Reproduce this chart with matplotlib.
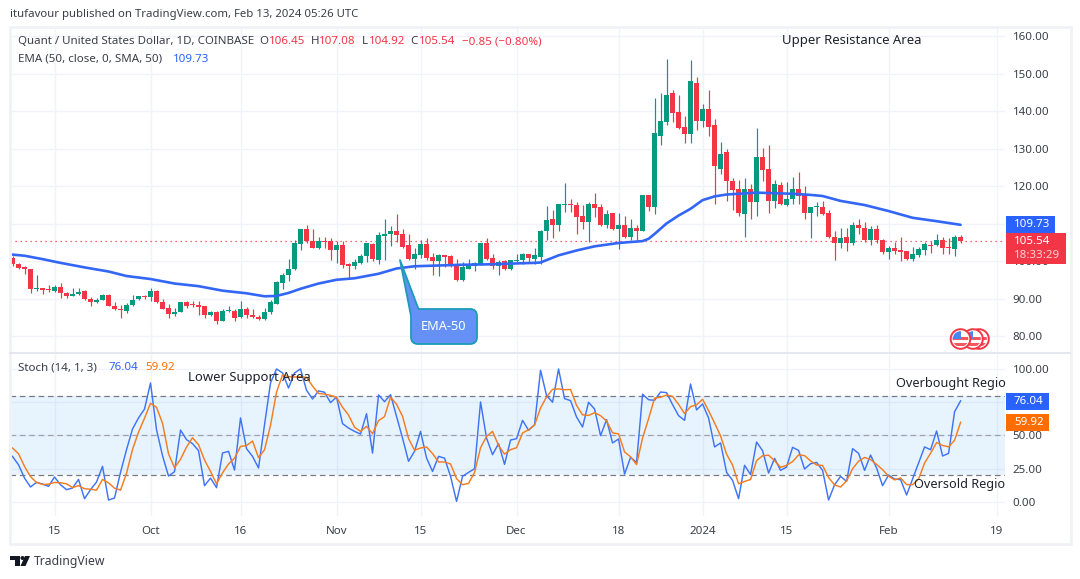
import numpy as np
import matplotlib
matplotlib.use('Agg')
import matplotlib.pyplot as plt
from matplotlib.patches import Rectangle, Circle, Polygon, PathPatch
from matplotlib.path import Path

plt.rcParams['font.family'] = ['Noto Sans', 'DejaVu Sans']

# daily candles, 8 Sep 2023 .. 13 Feb 2024
opens = [100.9,99.4,98.6,98.0,92.6,92.6,92.6,92.0,93.3,91.6,90.9,91.2,92.0,90.1,89.1,89.8,91.1,88.2,87.3,86.9,
         88.3,89.9,90.7,90.4,92.2,89.3,87.7,86.1,86.4,89.3,88.7,88.5,88.0,85.6,86.4,84.1,86.7,86.9,85.1,87.4,
         85.8,85.3,84.6,86.4,88.7,94.3,96.5,97.9,104.7,108.7,105.5,103.5,105.5,105.3,103.1,104.3,99.4,98.7,99.6,101.4,
         104.5,100.4,106.7,107.2,108.0,107.2,104.3,100.5,101.6,104.5,101.1,100.0,101.6,101.3,99.2,95.0,98.1,98.8,99.2,104.8,
         100.8,98.8,100.0,97.9,100.1,100.3,101.9,100.5,101.1,108.0,111.2,109.6,115.0,115.4,114.9,112.0,110.4,115.2,114.4,109.6,
         112.8,108.5,109.6,106.6,109.0,108.2,117.6,114.4,133.5,137.0,144.7,139.9,135.7,133.8,147.6,137.5,140.7,136.2,124.7,129.0,
         121.3,119.2,112.5,119.4,115.7,127.7,124.7,116.2,120.2,114.9,116.5,119.2,117.6,113.0,114.5,114.6,113.0,106.6,104.8,106.4,
         104.8,109.6,108.8,105.6,108.5,105.8,102.4,103.5,102.9,102.7,100.5,101.6,102.9,104.3,104.3,105.8,103.7,103.2,106.45]
highs = [101.3,99.6,98.7,98.1,96.5,92.8,93.8,93.8,94.3,91.8,92.9,92.9,92.5,90.4,90.2,91.4,91.2,89.1,88.5,88.9,
         91.1,90.9,91.0,92.9,92.3,90.0,88.7,87.6,89.3,89.5,89.4,89.5,88.2,86.7,86.7,87.2,88.2,87.3,89.4,87.8,
         87.4,85.6,87.6,89.8,94.7,96.9,100.6,105.8,108.7,109.7,108.7,106.5,106.6,106.2,105.3,105.3,99.6,100.6,101.9,105.0,
         105.0,107.8,111.2,109.4,112.5,108.5,107.2,103.6,105.6,106.1,102.3,101.9,101.7,101.6,100.5,99.9,100.5,99.9,104.8,106.1,
         101.9,100.4,100.3,100.4,101.9,102.3,101.9,103.6,108.3,114.7,113.6,115.2,120.9,116.7,115.8,115.0,115.9,118.1,115.2,113.8,
         112.9,112.9,112.0,111.2,109.6,117.7,117.7,143.6,144.7,153.8,145.5,144.2,138.6,153.5,149.2,141.8,145.5,137.8,131.7,129.8,
         122.1,121.6,122.1,120.5,135.4,130.3,130.9,121.6,121.0,121.0,122.4,123.9,120.0,114.6,115.7,116.2,113.6,108.2,109.0,109.0,
         110.4,111.2,110.6,109.3,109.6,105.9,104.0,105.1,106.4,102.7,103.7,103.7,105.1,105.3,107.4,106.4,106.1,106.9,107.08]
lows = [98.7,98.0,96.7,91.5,92.0,91.2,91.8,91.8,90.2,90.3,90.7,91.1,89.8,88.2,88.9,89.7,88.0,87.1,84.8,86.3,
        88.2,89.8,90.1,89.4,89.0,87.3,84.8,85.4,86.4,87.5,87.8,85.6,84.9,85.4,83.2,84.0,86.6,84.1,85.0,84.9,
        84.9,84.5,84.5,86.1,88.7,92.6,94.7,97.8,102.9,104.9,103.5,103.3,103.5,100.4,99.6,98.2,95.3,98.1,99.2,99.8,
        100.1,99.4,100.4,104.1,105.1,103.6,100.3,98.1,101.0,100.4,96.5,96.1,98.5,98.4,94.9,94.9,97.9,97.4,99.1,100.4,
        98.1,96.5,97.8,97.8,99.9,99.4,99.6,99.4,99.2,105.7,106.3,108.1,113.1,113.1,107.4,108.5,105.1,111.7,109.5,108.9,
        108.4,103.2,106.1,105.8,105.6,108.2,113.3,112.5,131.1,136.2,137.0,135.3,131.4,131.4,135.1,135.9,133.5,115.2,123.2,116.0,
        113.8,112.0,106.4,111.2,112.2,121.3,113.0,114.1,115.1,114.8,115.4,115.4,111.2,106.1,112.2,112.4,106.1,100.4,103.5,102.7,
        104.3,107.4,105.1,104.3,104.8,101.9,100.5,101.9,100.0,100.4,100.0,101.1,101.6,102.3,104.0,101.9,101.9,101.3,104.92]
closes = [99.3,98.3,97.9,92.6,92.6,92.5,92.4,93.2,91.5,90.9,91.1,91.9,89.9,89.1,89.8,91.1,88.0,87.2,87.0,88.5,
          89.8,90.7,90.4,92.2,89.1,87.4,86.1,86.6,89.3,88.2,88.4,87.9,85.6,86.4,84.0,86.8,86.9,85.0,87.4,85.6,
          85.1,84.6,86.6,89.1,94.6,96.5,98.0,105.0,108.7,105.3,103.6,105.4,105.1,103.1,104.3,99.1,98.7,99.9,101.4,104.8,
          100.5,106.9,107.2,108.2,107.0,103.9,100.5,101.9,104.5,100.8,100.0,101.6,101.2,98.9,95.0,98.4,98.8,99.5,104.8,100.5,
          98.8,99.9,97.9,100.3,100.3,101.9,100.8,101.6,108.2,110.9,109.6,115.2,115.4,114.9,111.7,110.6,115.2,114.1,109.6,112.5,
          108.5,109.6,106.6,109.0,108.2,117.6,114.4,134.1,137.3,144.4,139.6,135.4,133.8,147.9,137.5,140.7,135.7,125.3,128.5,121.3,
          118.9,112.8,119.4,115.7,127.7,124.2,116.2,120.5,115.2,116.5,119.2,117.3,113.0,114.6,114.6,112.5,106.4,104.8,106.1,104.8,
          109.8,108.8,105.6,108.5,105.6,102.4,103.5,102.7,102.6,100.5,101.9,103.2,104.5,104.2,105.8,103.5,103.5,106.4,105.54]

# EMA 50 read at these candle positions
ema_idx = [0,2,5,8,12,16,19,23,27,31,35,39,42,44,46,48,51,54,57,58,61,64,67,71,75,79,83,87,88,91,94,97,101,105,106,107,
           109,111,113,115,117,119,124,130,133,135,138,142,146,150,154,158]
ema_val = [101.8,101.5,100.6,99.6,98.4,97.3,96.1,95.3,94.1,93.4,92.2,91.5,90.7,90.8,91.6,92.7,94.1,95.1,95.5,95.8,96.7,98.1,98.7,98.9,
           99.1,99.2,99.4,99.6,99.7,101.6,102.9,104.0,104.9,105.4,106.0,107.3,110.1,112.2,114.0,116.3,117.3,117.8,118.3,118.0,117.7,117.4,
           116.1,115.0,113.4,111.6,110.7,109.73]

stoch_k = [34.3,28,18,11.3,14.8,13.5,11.8,18.8,13,9.3,10.5,17,2.5,9.3,15,26.8,1.5,3,22.3,39.3,
           54.9,63.2,69.9,89.5,54.4,34.8,19.5,22.8,54.1,46.9,43.9,38.6,12.3,18,10.8,36.8,38.1,24,63.2,40.1,
           34.3,25.6,58.1,89.5,100,97,85.7,97,100,84,77.4,83.5,82.5,74.7,78.9,58.9,55.6,53.1,51.1,66.4,
           36.8,80.5,75.4,80.7,64.4,48,30.6,38.1,53.1,33.1,23,34.3,33,19.3,0.5,19.3,22.3,25,75.2,48,
           35.6,43.9,28.3,46.6,47.6,61.4,53.9,58.1,99,80,75,100,77.7,76.2,63.9,56.4,75,69.9,49.9,61.9,
           44.4,47.4,21,33.6,29.8,81,76.9,76.4,82.7,82.2,73.2,64.9,61.4,88.7,69.2,73.7,63.2,41.4,44.4,22.3,
           16.3,2.5,27.6,20.6,45.1,38.6,21.8,32.8,23.8,26.3,41.1,38.8,24.8,28.8,29.8,23.8,1.5,13,19.3,15.5,
           40.1,36.6,23.8,35.3,25.6,12.3,20.3,17.3,16.8,5.3,17.3,29.3,41.4,39.3,53.4,34.6,36.6,67.9,76.04]
stoch_d = [40.6,36.3,26.8,19.1,14.7,13.2,13.4,14.7,14.5,13.7,10.9,12.3,10,9.6,8.9,17,14.4,10.4,8.9,21.6,
           39.5,52.5,63,74.2,71.2,59.2,36.2,25.7,32.1,41.3,48.3,43.1,31.6,23,13.7,21.9,28.6,33,41.8,42.4,
           45.9,33.3,39.3,57.7,82.6,95.5,94.2,93.9,94.2,93.7,87.1,81.6,81.1,80.2,78.7,71.2,65.4,56.2,53.1,56.9,
           51.4,61.2,64.2,78.9,73.5,64.4,47.7,38.9,40.6,41.4,36.4,30.1,30.1,28.6,17.6,13,14,22.2,40.8,49.3,
           53.1,42.5,36,39.4,40.8,51.9,54.3,57.8,70.7,79,84.7,85,84.4,84.6,72.6,65.5,65.1,67.1,64.9,60.9,
           52,51.2,37.6,34,28.1,48.1,62.6,78.1,78.7,80.4,79.4,73.4,66.5,71.7,73.1,77.2,68.7,59.4,49.7,36,
           27.7,13.7,15.5,16.9,31.1,34.8,35.2,31.1,26.1,27.6,30.4,35.4,34.9,30.9,27.8,27.5,18.4,12.8,11.3,15.9,
           25,30.7,33.5,31.9,28.3,24.3,19.4,16.6,18.1,13.1,13,17.3,29.3,36.7,44.7,42.5,41.5,46.4,59.92]

date_ticks = [7, 23, 38, 54, 68, 84, 101, 115, 129, 146, 164]
date_labels = ['15', 'Oct', '16', 'Nov', '15', 'Dec', '18', '2024', '15', 'Feb', '19']
price_ticks = [80, 90, 100, 110, 120, 130, 140, 150, 160]
stoch_ticks = [0, 25, 50, 75, 100]
stoch_labels = ['0.00', '25.00', '50.00', '', '100.00']  # 75.00 sits under the value box
last_price = 105.54

UP, DOWN = '#089981', '#f23645'
BLUE, ORANGE = '#2962ff', '#ff6d00'
GRID = '#f0f3fa'
TXT = '#3b3e48'
FS = 8.3

W, H = 1080, 579
fig = plt.figure(figsize=(W/100, H/100), dpi=100, facecolor='white')

def pane(x0, y0, x1, y1):
    return fig.add_axes([x0/W, 1-y1/H, (x1-x0)/W, (y1-y0)/H])

ax = pane(10, 27, 1005, 352)
ax2 = pane(10, 353, 1005, 516)
xlim = (-0.417, 165.4)

# price pane
x = np.arange(len(closes))
o, h, l, c = map(np.array, (opens, highs, lows, closes))
cols = np.where(c >= o, UP, DOWN)
ax.vlines(x, l, h, colors=cols, lw=0.85, zorder=3)
ax.bar(x, np.maximum(np.abs(c-o), 0.28), bottom=np.minimum(o, c), width=0.84, color=cols, lw=0, zorder=4)
ax.plot(ema_idx, ema_val, color='#3366f5', lw=1.9, zorder=5, solid_capstyle='round')
ax.axhline(last_price, color=DOWN, lw=0.9, ls=(0, (1, 3)), zorder=2)
ax.set_xlim(*xlim)
ax.set_ylim(75.87, 162.4)
ax.set_yticks(price_ticks)
ax.set_yticklabels([f'{t:.2f}' for t in price_ticks])
ax.set_xticks(date_ticks)
ax.tick_params(axis='x', length=0, labelbottom=False)

# stochastic pane
ax2.axhspan(20, 80, color='#2196f3', alpha=0.1, lw=0, zorder=1)
for v, col in ((80, '#787b86'), (50, '#9fa2ab'), (20, '#787b86')):
    ax2.axhline(v, color=col, lw=0.9, ls=(0, (4.5, 3)), zorder=2)
ax2.plot(x, stoch_k, color='#3f74f6', lw=1.05, zorder=3)
ax2.plot(x, stoch_d, color='#f57c20', lw=1.05, zorder=4)
ax2.set_xlim(*xlim)
ax2.set_ylim(-10.5, 112)
ax2.set_yticks(stoch_ticks)
ax2.set_yticklabels(stoch_labels)
ax2.set_xticks(date_ticks)
ax2.set_xticklabels(date_labels)
ax2.get_xticklabels()[7].set_fontweight('bold')
ax2.tick_params(axis='x', length=0, pad=7, labelsize=FS, labelcolor=TXT)

for a in (ax, ax2):
    a.grid(True, color=GRID, lw=1.0, zorder=0)
    a.set_axisbelow(True)
    a.yaxis.tick_right()
    a.tick_params(axis='y', length=0, pad=5.5, labelsize=FS, labelcolor=TXT)
    for s in a.spines.values():
        s.set_visible(False)

# overlay in picture pixels, for frame, labels and drawings
ov = fig.add_axes([0, 0, 1, 1], zorder=10)
ov.set_xlim(0, W)
ov.set_ylim(H, 0)
ov.axis('off')

ov.add_patch(Rectangle((9.5, 26.5), 1061, 517, fill=False, ec='#f0f2f7', lw=2))
ov.plot([10, 1070], [352.5, 352.5], color='#e0e3eb', lw=1.2)

def label(x, y, s, color=TXT, size=FS, **kw):
    ov.text(x, y, s, color=color, fontsize=size, va='center', ha=kw.pop('ha', 'left'), **kw)

label(10, 15, 'itufavour published on TradingView.com, Feb 13, 2024 05:26 UTC', size=8.2)
label(18, 42, 'Quant / United States Dollar, 1D, COINBASE')
for xp, s, col in ((259.5, 'O', TXT), (268.5, '106.45', DOWN), (311, 'H', TXT), (319, '107.08', DOWN),
                   (361.5, 'L', TXT), (368.5, '104.92', DOWN), (410.5, 'C', TXT), (419, '105.54', DOWN),
                   (461.5, '\u22120.85 (\u22120.80%)', DOWN)):
    label(xp, 42, s, color=col)
label(18, 59, 'EMA (50, close, 0, SMA, 50)')
label(172.5, 59, '109.73', color=BLUE)
label(18, 367.5, 'Stoch (14, 1, 3)')
label(109, 367.5, '76.04', color=BLUE)
label(145.5, 367.5, '59.92', color=ORANGE)

# free text drawings
label(782, 40.5, 'Upper Resistance Area', color='#1e222d', size=9.45)
label(188, 378, 'Lower Support Area', color='#1e222d', size=9.4)
label(896, 383.5, 'Overbought Regio', color='#1e222d', size=9.15)
label(914, 484.5, 'Oversold Regio', color='#1e222d', size=9.15)

# axis value boxes
def value_box(y0, y1, x1, col, lines):
    ov.add_patch(Rectangle((1006, y0), x1-1006, y1-y0, color=col, lw=0))
    for yt, s, tc in lines:
        label(1014, yt, s, color=tc, fontweight='semibold' if tc == 'white' else 'normal')

value_box(216, 233, 1055, BLUE, [(224.5, '109.73', 'white')])
value_box(233, 264, 1066, DOWN, [(241, '105.54', 'white'), (256, '18:33:29', '#fbd3d7')])
value_box(393, 410, 1049, BLUE, [(401.5, '76.04', 'white')])
value_box(414, 431, 1049, ORANGE, [(422.5, '59.92', 'white')])

# EMA-50 callout
box_verts = [(400, 260), (418.5, 309), (470, 309), (477, 309), (477, 316), (477, 337), (477, 344), (470, 344),
             (418, 344), (411, 344), (411, 337), (411, 316), (400, 260)]
box_codes = [Path.MOVETO, Path.LINETO, Path.LINETO, Path.CURVE3, Path.CURVE3, Path.LINETO, Path.CURVE3, Path.CURVE3,
             Path.LINETO, Path.CURVE3, Path.CURVE3, Path.LINETO, Path.CLOSEPOLY]
ov.add_patch(PathPatch(Path(box_verts, box_codes), fc='#6591f7', ec='#1a9bb8', lw=1.3, joinstyle='round'))
ov.text(444, 326.5, 'EMA-50', color='white', fontsize=9.2, ha='center', va='center')

# flag icons on the time scale, back to front
for n, cx in enumerate((979, 973, 960.5)):
    z = 11 + n*4
    ov.add_patch(Circle((cx, 339), 9.8, fc='white', ec=DOWN, lw=1.4, zorder=z))
    clip = Circle((cx, 339), 7.8, transform=ov.transData)
    for yy in (336.5, 342.5):
        st = ov.add_patch(Rectangle((cx-9, yy), 18, 3.2, color='#f4565f', lw=0, zorder=z+1))
        st.set_clip_path(clip)
    can = ov.add_patch(Rectangle((cx-9, 331), 9, 7.5, color='#4a86ee', lw=0, zorder=z+2))
    can.set_clip_path(clip)

# TradingView logo
ov.add_patch(Polygon([(10, 556), (20, 556), (20, 566), (15, 566), (15, 560), (10, 560)], color='#131722', lw=0))
ov.add_patch(Circle((22.5, 558), 2, color='#131722', lw=0))
ov.add_patch(Polygon([(25, 556), (30, 556), (25.5, 566), (20.5, 566)], color='#131722', lw=0))
label(33.5, 561, 'TradingView', size=8.8, color='#3b3e48')

fig.savefig('out.png', dpi=100, facecolor='white')
